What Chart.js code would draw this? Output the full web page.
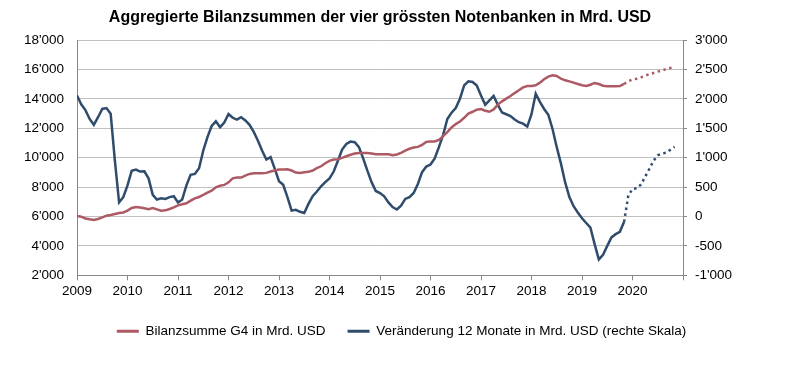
<!DOCTYPE html>
<html><head><meta charset="utf-8">
<script src="https://cdn.jsdelivr.net/npm/chart.js@4"></script>
<style>html,body{margin:0;padding:0;background:#fff}#wrap{width:803px;height:365px;position:relative}</style>
</head><body><div id="wrap"><canvas id="c"></canvas></div>
<script>
// ---- data (monthly, Jan 2009 = index 0) ----
const startYear = 2009;
const yearLabels = ['2009','2010','2011','2012','2013','2014','2015','2016','2017','2018','2019','2020'];
const seriesNames = ['Bilanzsumme G4 in Mrd. USD', 'Veränderung 12 Monate in Mrd. USD (rechte Skala)'];

// Bilanzsumme G4 (left axis), Jan 2009 .. Nov 2019
const bilanzHist = [
  6030, 5990, 5870, 5810, 5760, 5830, 5940, 6060, 6100, 6170,
  6240, 6280, 6400, 6580, 6650, 6620, 6560, 6500, 6580, 6490,
  6400, 6420, 6510, 6620, 6760, 6840, 6900, 7080, 7240, 7330,
  7470, 7630, 7760, 7990, 8100, 8150, 8330, 8600, 8650, 8650,
  8790, 8900, 8950, 8950, 8950, 8970, 9060, 9130, 9200, 9200,
  9220, 9130, 8990, 8970, 9010, 9040, 9130, 9290, 9420, 9630,
  9790, 9880, 9900, 9990, 10100, 10200, 10290, 10330, 10330, 10330,
  10290, 10240, 10240, 10240, 10240, 10170, 10220, 10330, 10490, 10610,
  10700, 10740, 10880, 11080, 11110, 11110, 11220, 11470, 11740, 12060,
  12290, 12470, 12720, 13000, 13130, 13270, 13310, 13200, 13130, 13290,
  13620, 13840, 14020, 14200, 14400, 14590, 14790, 14880, 14880, 14930,
  15110, 15340, 15520, 15610, 15570, 15380, 15270, 15200, 15110, 15020,
  14930, 14880, 14970, 15090, 15020, 14900, 14860, 14860, 14860, 14880,
  15020
];
// Bilanzsumme G4 projection (dotted), Nov 2019 .. Nov 2020
const bilanzProg = [15020, 15200, 15340, 15380, 15470, 15590, 15680, 15770, 15860, 15930, 16040, 16110, 16160];

// Veränderung 12 Monate (right axis), Jan 2009 .. Nov 2019
const changeHist = [
  2060, 1910, 1810, 1660, 1560, 1690, 1830, 1845, 1750, 950,
  240, 330, 530, 780, 800, 765, 770, 650, 370, 290,
  310, 300, 330, 345, 240, 290, 530, 710, 725, 820,
  1120, 1350, 1540, 1620, 1520, 1600, 1745, 1680, 1650, 1690,
  1635, 1560, 1440, 1290, 1120, 970, 1010, 810, 600, 540,
  330, 100, 115, 80, 60, 215, 345, 425, 515, 585,
  650, 765, 950, 1140, 1235, 1275, 1265, 1180, 990, 780,
  585, 435, 400, 345, 240, 160, 120, 185, 300, 330,
  400, 555, 755, 850, 885, 990, 1180, 1390, 1660, 1765,
  1845, 2005, 2230, 2300, 2290, 2230, 2060, 1900, 1975, 2050,
  1900, 1770, 1740, 1710, 1650, 1605, 1580, 1530, 1740, 2090,
  1950, 1830, 1730, 1490, 1180, 900, 580, 330, 175, 70,
  -30, -110, -190, -470, -730, -650, -500, -355, -300, -260,
  -90
];
// Veränderung projection (dotted), Nov 2019 .. Nov 2020
const changeProg = [-90, 355, 470, 480, 545, 675, 810, 950, 1040, 1070, 1085, 1135, 1185];

const leftTicks = [2000, 4000, 6000, 8000, 10000, 12000, 14000, 16000, 18000];
const rightTicks = [-1000, -500, 0, 500, 1000, 1500, 2000, 2500, 3000];

// ---- helpers ----
const toPoints = (arr, offset) => arr.map((v, i) => ({ x: startYear + (offset + i) / 12, y: v }));
const fmt = v => (v < 0 ? '-' : '') + String(Math.abs(v)).replace(/\B(?=(\d{3})+(?!\d))/g, "'");

const RED = '#AE5A64';
const BLUE = '#2F4C6C';
const FONT = 'Liberation Sans, Arial, sans-serif';

const titleOnPlot = {
  id: 'titleOnPlot',
  afterLayout(chart) {
    const t = chart.titleBlock;
    if (t) { t.left = chart.chartArea.left; t.right = chart.chartArea.right; t.width = t.right - t.left; }
  }
};

new Chart(document.getElementById('c'), {
  type: 'line',
  data: {
    datasets: [
      { label: seriesNames[0], data: toPoints(bilanzHist, 0), yAxisID: 'y', borderColor: RED, backgroundColor: RED, borderWidth: 2.5, pointRadius: 0, tension: 0 },
      { label: seriesNames[0] + ' (Prognose)', data: toPoints(bilanzProg, bilanzHist.length - 1), yAxisID: 'y', borderColor: RED, backgroundColor: RED, borderWidth: 2.5, borderDash: [2.5, 3.5], pointRadius: 0, tension: 0 },
      { label: seriesNames[1], data: toPoints(changeHist, 0), yAxisID: 'y1', borderColor: BLUE, backgroundColor: BLUE, borderWidth: 2.5, pointRadius: 0, tension: 0 },
      { label: seriesNames[1] + ' (Prognose)', data: toPoints(changeProg, changeHist.length - 1), yAxisID: 'y1', borderColor: BLUE, backgroundColor: BLUE, borderWidth: 2.5, borderDash: [2.5, 3.5], pointRadius: 0, tension: 0 }
    ]
  },
  options: {
    responsive: true,
    maintainAspectRatio: false,
    animation: false,
    devicePixelRatio: 1,
    layout: { padding: { left: 0, right: 0, top: 0, bottom: 17 } },
    plugins: {
      tooltip: { enabled: false },
      title: {
        display: true,
        text: 'Aggregierte Bilanzsummen der vier grössten Notenbanken in Mrd. USD',
        color: '#000',
        font: { family: FONT, size: 16, weight: 'bold' },
        padding: { top: 8, bottom: 13 }
      },
      legend: {
        position: 'bottom',
        labels: {
          color: '#000',
          font: { family: FONT, size: 13.5 },
          boxWidth: 22,
          boxHeight: 3,
          padding: 22,
          generateLabels(chart) {
            const items = Chart.defaults.plugins.legend.labels.generateLabels(chart);
            return items.filter(i => i.datasetIndex === 0 || i.datasetIndex === 2)
                        .map(i => Object.assign({}, i, { lineWidth: 0, lineDash: [], fillStyle: i.strokeStyle }));
          }
        }
      }
    },
    scales: {
      x: {
        type: 'linear',
        min: 2009, max: 2021,
        ticks: {
          stepSize: 1, autoSkip: false, maxRotation: 0, color: '#000', padding: 3,
          font: { family: FONT, size: 13.5 },
          callback: v => yearLabels[Math.round(v) - startYear] ?? ''
        },
        grid: { drawOnChartArea: false, drawTicks: true, tickLength: 5, color: '#888' },
        border: { color: '#888' }
      },
      y: {
        position: 'left',
        min: 2000, max: 18000,
        afterBuildTicks: s => { s.ticks = leftTicks.map(v => ({ value: v })); },
        afterFit: s => { s.width = 77; },
        ticks: { color: '#000', padding: 13, font: { family: FONT, size: 13.5 }, callback: v => fmt(v) },
        grid: { color: '#c0c0c0', drawTicks: false },
        border: { color: '#888' }
      },
      y1: {
        position: 'right',
        min: -1000, max: 3000,
        afterBuildTicks: s => { s.ticks = rightTicks.map(v => ({ value: v })); },
        afterFit: s => { s.width = 120; },
        ticks: { color: '#000', padding: 8, font: { family: FONT, size: 13.5 }, callback: v => fmt(v) },
        grid: { drawOnChartArea: false, drawTicks: true, tickLength: 4, color: '#888' },
        border: { color: '#888' }
      }
    }
  },
  plugins: [titleOnPlot]
});
</script>
</body></html>
